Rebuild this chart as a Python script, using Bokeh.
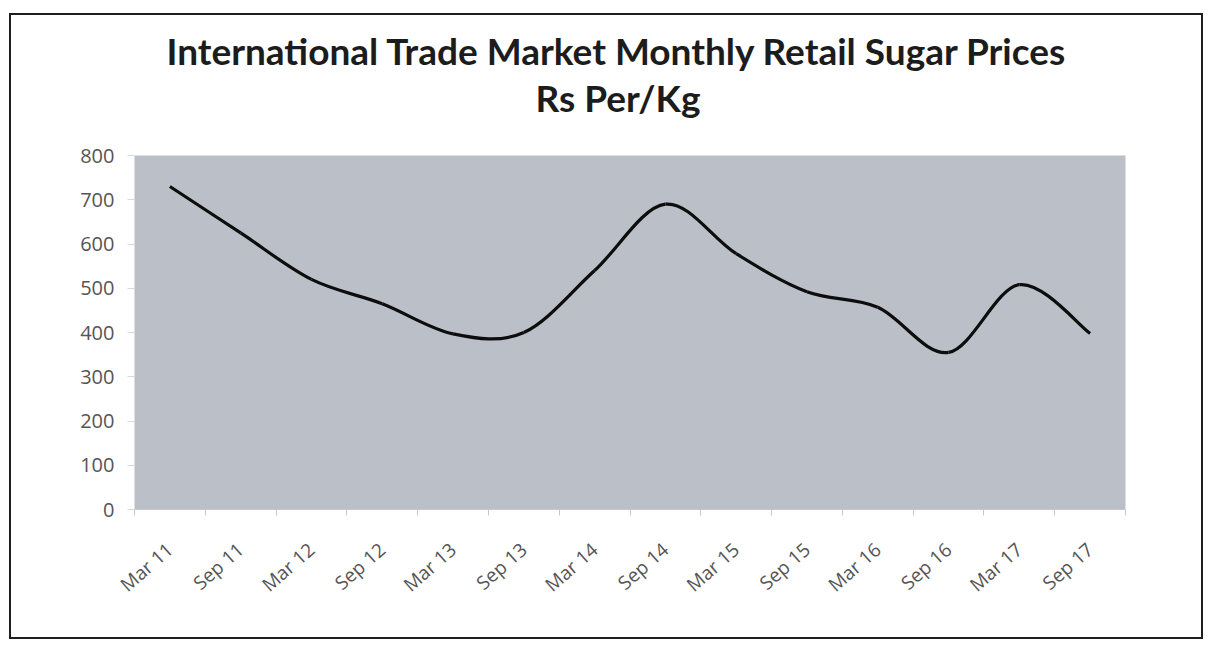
from bokeh.plotting import figure
from bokeh.models import Range1d, FixedTicker, Title
from bokeh.embed import file_html
from bokeh.resources import INLINE

# ---- data ----
labels = ["Mar 11", "Sep 11", "Mar 12", "Sep 12", "Mar 13", "Sep 13", "Mar 14",
          "Sep 14", "Mar 15", "Sep 15", "Mar 16", "Sep 16", "Mar 17", "Sep 17"]
prices = [730, 625, 520, 465, 397, 400, 540, 690, 578, 492, 457, 355, 508, 398]
y_ticks = [0, 100, 200, 300, 400, 500, 600, 700, 800]
title_line1 = "International Trade Market Monthly Retail Sugar Prices"
title_line2 = "Rs Per/Kg"

n = len(labels)
xs = [i + 0.5 for i in range(n)]

p = figure(width=1194, height=626, output_backend="svg", toolbar_location=None,
           x_range=Range1d(0, n), y_range=Range1d(0, 800),
           min_border_left=123, min_border_right=80, min_border_top=140,
           min_border_bottom=132, background_fill_color="#bbbfc7",
           border_fill_color="white", outline_line_color=None)
p.margin = (13, 0, 0, 9)
p.styles = {"border": "2px solid #1e1e1e"}

# titles: stacked outward from the plot frame
spacer = Title(text=" ", text_font="Lato", text_font_size="10px", standoff=22)
t2 = Title(text=title_line2, align="left", text_font="Lato", text_font_size="37px",
           text_font_style="bold", text_color="#1c1c1c", offset=401, standoff=0)
t1 = Title(text=title_line1, align="left", text_font="Lato", text_font_size="37px",
           text_font_style="bold", text_color="#1c1c1c", offset=32, standoff=0)
p.add_layout(spacer, "above")
p.add_layout(t2, "above")
p.add_layout(t1, "above")

# smooth line through the data (Catmull-Rom -> cubic Bezier segments)
x0s, y0s, x1s, y1s, cx0, cy0, cx1, cy1 = [], [], [], [], [], [], [], []
for i in range(n - 1):
    xa, ya = xs[max(i - 1, 0)], prices[max(i - 1, 0)]
    xb, yb = xs[i], prices[i]
    xc, yc = xs[i + 1], prices[i + 1]
    xd, yd = xs[min(i + 2, n - 1)], prices[min(i + 2, n - 1)]
    x0s.append(xb); y0s.append(yb); x1s.append(xc); y1s.append(yc)
    cx0.append(xb + (xc - xa) / 6.0); cy0.append(yb + (yc - ya) / 6.0)
    cx1.append(xc - (xd - xb) / 6.0); cy1.append(yc - (yd - yb) / 6.0)
p.bezier(x0=x0s, y0=y0s, x1=x1s, y1=y1s, cx0=cx0, cy0=cy0, cx1=cx1, cy1=cy1,
         line_color="#0d0d0d", line_width=3.2)

# axes
p.grid.visible = False
xa_ = p.xaxis[0]
xa_.ticker = FixedTicker(ticks=xs, minor_ticks=list(range(n + 1)))
xa_.major_label_overrides = {x: l for x, l in zip(xs, labels)}
xa_.major_label_orientation = 0.72
xa_.major_tick_line_color = None
xa_.minor_tick_out = 6
xa_.minor_tick_in = 0
xa_.minor_tick_line_color = "#c8c8c8"
xa_.axis_line_color = "#c8c8c8"
xa_.major_label_standoff = 31
xa_.major_label_text_font = "Open Sans"
xa_.major_label_text_font_size = "19px"
xa_.major_label_text_color = "#555555"

ya_ = p.yaxis[0]
ya_.ticker = FixedTicker(ticks=y_ticks)
ya_.axis_line_color = None
ya_.minor_tick_line_color = None
ya_.major_tick_out = 7
ya_.major_tick_in = 0
ya_.major_tick_line_color = "#d8d8d8"
ya_.major_label_standoff = 13
ya_.major_label_text_font = "Open Sans"
ya_.major_label_text_font_size = "20px"
ya_.major_label_text_color = "#555555"

open("out.html", "w").write(file_html(p, INLINE))
